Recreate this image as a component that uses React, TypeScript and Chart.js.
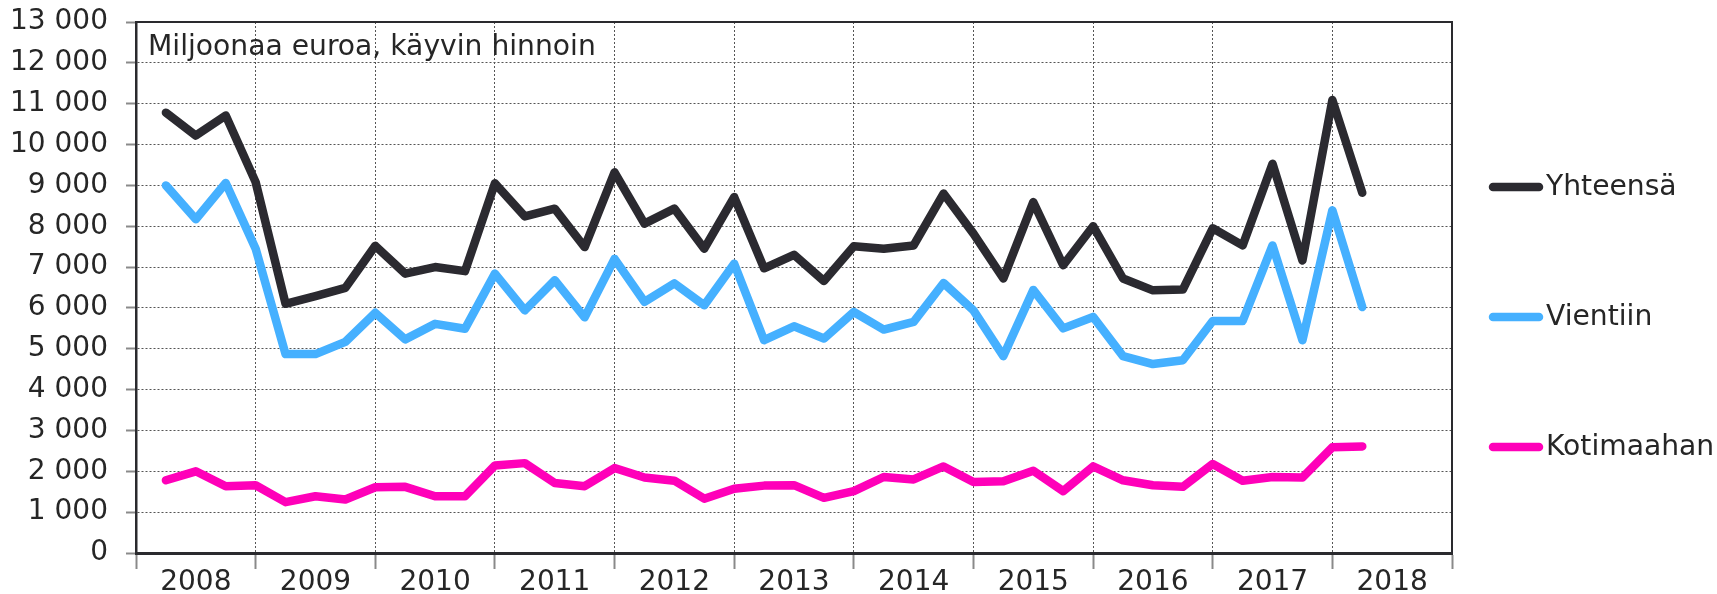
import React, { useEffect, useRef } from 'react';
import { Chart, registerables } from 'chart.js';

Chart.register(...registerables);

const years = ['2008', '2009', '2010', '2011', '2012', '2013', '2014', '2015', '2016', '2017', '2018'];
const seriesNames = ['Yhteensä', 'Vientiin', 'Kotimaahan'];
const unitLabel = 'Miljoonaa euroa, käyvin hinnoin';

// Quarterly values, 2008 Q1 – 2018 Q1 (million euro)
const yhteensa = [
  10780, 10220, 10710, 9080,
  6100, 6290, 6490, 7520,
  6840, 7000, 6900, 9050,
  8240, 8430, 7490, 9320,
  8065, 8430, 7450, 8715,
  6970, 7300, 6660, 7510,
  7450, 7530, 8800, 7820,
  6720, 8590, 7045, 8000,
  6720, 6430, 6450, 7950,
  7530, 9530, 7160, 11090,
  8820,
];
const vientiin = [
  9000, 8170, 9060, 7450,
  4870, 4870, 5170, 5880,
  5230, 5610, 5490, 6840,
  5940, 6680, 5770, 7200,
  6150, 6600, 6065, 7080,
  5210, 5550, 5250, 5900,
  5470, 5660, 6610, 5940,
  4820, 6440, 5500, 5780,
  4820, 4625, 4720, 5680,
  5680, 7530, 5210, 8390,
  6020,
];
const kotimaahan = [
  1780, 2000, 1635, 1660,
  1245, 1390, 1310, 1610,
  1620, 1390, 1390, 2140,
  2200, 1715, 1635, 2080,
  1850, 1770, 1330, 1575,
  1650, 1660, 1350, 1515,
  1860, 1800, 2120, 1740,
  1755, 2015, 1515, 2120,
  1780, 1660, 1620, 2180,
  1770, 1860, 1850, 2590,
  2610,
];
const seriesColors = ['#2B2A30', '#45B0FF', '#FF00B9'];
const yMin = 0;
const yMax = 13000;
const yStep = 1000;

const FONT = '"DejaVu Sans", Verdana, sans-serif';
const TICK_FONT_SIZE = 28;
const LABEL_FONT_SIZE = 28.2;
const TEXT_COLOR = '#262626';
const GRID_COLOR = '#555555';
const TICK_COLOR = '#8a8a8a';
const AXIS_COLOR = '#2a2a2e';

const fmt = (v: number) => String(v).replace(/\B(?=(\d{3})+(?!\d))/g, ' ');

export default function App() {
  const ref = useRef<HTMLCanvasElement>(null);

  useEffect(() => {
    if (!ref.current) return;
    const series = [yhteensa, vientiin, kotimaahan];
    const datasets = series.map((vals, k) => ({
      label: seriesNames[k],
      data: vals.map((v, i) => ({ x: i + 1, y: v })),
      borderColor: seriesColors[k],
      backgroundColor: seriesColors[k],
      borderWidth: 8.5,
      pointRadius: 0,
      pointHoverRadius: 0,
      borderCapStyle: 'round' as const,
      borderJoinStyle: 'round' as const,
      tension: 0,
      fill: false,
    }));
    const nQ = years.length * 4;

    const framePlugin = {
      id: 'frameTitleLegend',
      afterDraw(chart: any) {
        const { ctx, chartArea: a } = chart;
        ctx.save();
        // top and right frame
        ctx.strokeStyle = AXIS_COLOR;
        ctx.lineWidth = 2;
        ctx.setLineDash([]);
        ctx.beginPath();
        ctx.moveTo(a.left, a.top);
        ctx.lineTo(a.right, a.top);
        ctx.lineTo(a.right, a.bottom);
        ctx.stroke();
        // unit title inside plot
        ctx.font = `${LABEL_FONT_SIZE}px ${FONT}`;
        ctx.fillStyle = TEXT_COLOR;
        ctx.textAlign = 'left';
        ctx.textBaseline = 'alphabetic';
        ctx.fillText(unitLabel, a.left + 12, a.top + 33);
        // legend
        chart.data.datasets.forEach((ds: any, k: number) => {
          const y = 187 + k * 130;
          ctx.strokeStyle = ds.borderColor;
          ctx.lineWidth = 8.5;
          ctx.lineCap = 'round';
          ctx.beginPath();
          ctx.moveTo(a.right + 41, y);
          ctx.lineTo(a.right + 87, y);
          ctx.stroke();
          ctx.fillStyle = TEXT_COLOR;
          ctx.textBaseline = 'middle';
          ctx.fillText(ds.label, a.right + 94, y + 1);
        });
        ctx.restore();
      },
    };

    const chart = new Chart(ref.current, {
      type: 'line',
      data: { datasets },
      options: {
        responsive: false,
        maintainAspectRatio: false,
        animation: false,
        events: [],
        layout: { padding: { top: 22, right: 265, left: 0, bottom: 0 } },
        plugins: {
          legend: { display: false },
          tooltip: { enabled: false },
        },
        scales: {
          x: {
            type: 'linear',
            min: 0,
            max: nQ,
            ticks: {
              stepSize: 2,
              autoSkip: false,
              maxRotation: 0,
              minRotation: 0,
              padding: -3,
              color: TEXT_COLOR,
              font: { family: FONT, size: TICK_FONT_SIZE },
              callback: (v: any) => {
                const n = Math.round(Number(v));
                return n % 4 === 2 ? years[(n - 2) / 4] : '';
              },
            },
            grid: {
              color: (c: any) => (c.tick && Math.round(c.tick.value) % 4 === 0 ? GRID_COLOR : 'rgba(0,0,0,0)'),
              tickColor: (c: any) => (c.tick && Math.round(c.tick.value) % 4 === 0 ? TICK_COLOR : 'rgba(0,0,0,0)'),
              lineWidth: 1,
              tickLength: 16,
              tickWidth: 2,
            },
            border: { display: true, color: AXIS_COLOR, width: 3, dash: [2, 2] },
            afterFit: (s: any) => {
              s.height = 41;
              s.paddingLeft = 0;
              s.paddingRight = 0;
            },
          },
          y: {
            type: 'linear',
            min: yMin,
            max: yMax,
            ticks: {
              stepSize: yStep,
              autoSkip: false,
              padding: 18,
              color: TEXT_COLOR,
              font: { family: FONT, size: TICK_FONT_SIZE },
              callback: (v: any) => fmt(Number(v)),
            },
            grid: {
              color: GRID_COLOR,
              tickColor: TICK_COLOR,
              lineWidth: 1,
              tickLength: 10,
              tickWidth: 2,
            },
            border: { display: true, color: AXIS_COLOR, width: 2.5, dash: [2, 2] },
            afterFit: (s: any) => {
              s.width = 136;
              s.paddingTop = 0;
              s.paddingBottom = 0;
            },
          },
        },
      },
      plugins: [framePlugin],
    });
    return () => chart.destroy();
  }, []);

  return (
    <div style={{ position: 'absolute', left: 0, top: 0, width: 1717, height: 594, background: '#fff' }}>
      <canvas ref={ref} width={1717} height={594} style={{ display: 'block' }} />
    </div>
  );
}
